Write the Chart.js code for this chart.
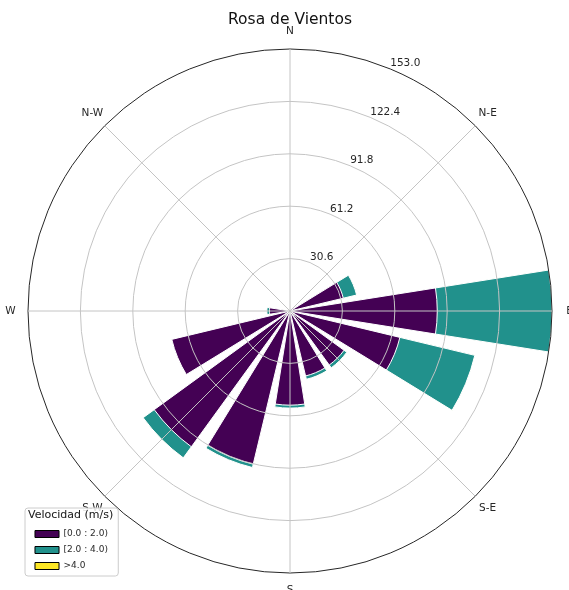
<!DOCTYPE html>
<html><head><meta charset="utf-8">
<script src="https://cdn.jsdelivr.net/npm/chart.js@4.4.0/dist/chart.umd.min.js"></script>
<style>html,body{margin:0;padding:0;background:#fff;}#wrap{width:569px;height:590px;position:relative;}</style>
</head><body><div id="wrap"><canvas id="c"></canvas></div>
<script>
const directions = ['N','NNE','NE','ENE','E','ESE','SE','SSE','S','SSW','SW','WSW','W','WNW','NW','NNW'];
const compassLabels = ['N','N-E','E','S-E','S','S-W','W','N-W'];
const speedBins = ['[0.0 : 2.0)','[2.0 : 4.0)','>4.0'];
const speed0to2 = [0,0,0,32,86,66,39,39,55,92,98,71,12,0,0,0];
const speed2to4 = [0,0,0,8,67,45,2,2,1.7,2,8,0,1.5,0,0,0];
const speedAbove4 = [0,0,0,0,0,0,0,0,0,0,0,0,0,0,0,0];
const radialTicks = [30.6,61.2,91.8,122.4,153.0];
const radialTickLabels = ['30.6','61.2','91.8','122.4','153.0'];
const binColors = ['#440154','#21918c','#fde725'];

Chart.defaults.font.family = '"DejaVu Sans", sans-serif';

// each direction = bar slot + gap slot + 3 zero-width slots (keeps compass angles on index angles)
const SLOTS = 5;
const slotAngles = [18, 4.5, 1e-6, 1e-6, 1e-6];
const cum1 = speed0to2.map((v,i)=>v+speed2to4[i]);
const cum2 = cum1.map((v,i)=>v+speedAbove4[i]);
const expand = vals => { const out=[]; vals.forEach(v=>{ out.push(v,0,0,0,0); }); return out; };
const labels = [];
for (let k=0;k<directions.length*SLOTS;k++){ labels.push((k-2)%10===0 ? compassLabels[(k-2)/10] : ''); }

const mk = (vals, color, label) => ({
  label, data: expand(vals), backgroundColor: color, borderColor:'#ffffff',
  borderWidth: c => (c.raw > 0 ? 1 : 0),
  angle: c => slotAngles[c.dataIndex % SLOTS]
});

const overlay = {
  id:'overlay',
  afterLayout(chart){
    const lg = chart.legend, ca = chart.chartArea;
    lg.top = ca.top; lg.bottom = ca.bottom + 3.5; lg.left = ca.left; lg.right = ca.right;
  },
  afterDraw(chart){
    const s = chart.scales.r, ctx = chart.ctx;
    ctx.save();
    ctx.font = '10.5px "DejaVu Sans"'; ctx.fillStyle = '#262626';
    ctx.textAlign='left'; ctx.textBaseline='bottom';
    radialTicks.forEach((v,i)=>{ const p = s.getPointPosition(7, s.getDistanceFromCenterForValue(v)); ctx.fillText(radialTickLabels[i], p.x, p.y); });
    ctx.textAlign='center'; ctx.textBaseline='middle';
    compassLabels.forEach((t,j)=>{ const p = s.getPointPosition(10*j+2, s.drawingArea+17.5); ctx.fillText(t, p.x, p.y); });
    // legend frame
    const lg = chart.legend, hb = lg.legendHitBoxes;
    ctx.font = '11px "DejaVu Sans"';
    const tw = ctx.measureText('Velocidad (m/s)').width;
    let right = lg.left + tw;
    hb.forEach(h=>{ right = Math.max(right, h.left + h.width); });
    const x0 = lg.left - 3, y0 = hb[0].top - 21.5, x1 = right + 5, y1 = hb[hb.length-1].top + hb[hb.length-1].height + 5.5;
    ctx.beginPath();
    if (ctx.roundRect) ctx.roundRect(x0, y0, x1-x0, y1-y0, 3); else ctx.rect(x0, y0, x1-x0, y1-y0);
    ctx.fillStyle = 'rgba(255,255,255,0.85)'; ctx.fill();
    ctx.strokeStyle = '#cccccc'; ctx.lineWidth = 1; ctx.stroke();
    ctx.restore();
    lg.draw();
  }
};

new Chart(document.getElementById('c'), {
  type:'polarArea',
  data:{ labels, datasets:[ mk(speed0to2, binColors[0], speedBins[0]), mk(cum1, binColors[1], speedBins[1]), mk(cum2, binColors[2], speedBins[2]) ] },
  options:{
    responsive:true, maintainAspectRatio:false, animation:false, events:[],
    layout:{ padding:{ top:11, left:28, right:17, bottom:16 } },
    scales:{ r:{
      type:'radialLinear', min:0, max:radialTicks[radialTicks.length-1], startAngle:-9,
      afterBuildTicks: sc => { sc.ticks = [0, ...radialTicks].map(v=>({value:v})); },
      ticks:{ display:false },
      grid:{ circular:true, z:1, color: c => (c.index === radialTicks.length ? '#262626' : '#c4c4c4'), lineWidth:1 },
      angleLines:{ display:true, color:'#c4c4c4', lineWidth: c => (c.index % 10 === 2 ? 1 : 0) },
      pointLabels:{ display:false }
    }},
    plugins:{
      title:{ display:true, text:'Rosa de Vientos', color:'#111', font:{ size:15.5, weight:'normal' }, padding:{ top:0, bottom:20 } },
      tooltip:{ enabled:false },
      legend:{
        display:true, position:'chartArea', align:'end',
        title:{ display:true, text:'Velocidad (m/s)', position:'start', padding:0, color:'#222', font:{ size:11 } },
        labels:{
          boxWidth:24, boxHeight:7, padding:7, color:'#333', font:{ size:9 },
          generateLabels: () => speedBins.map((t,i)=>({ text:t, fillStyle:binColors[i], strokeStyle:'#000', lineWidth:1, hidden:false, index:i, fontColor:'#333' }))
        }
      }
    }
  },
  plugins:[overlay]
});
</script></body></html>
